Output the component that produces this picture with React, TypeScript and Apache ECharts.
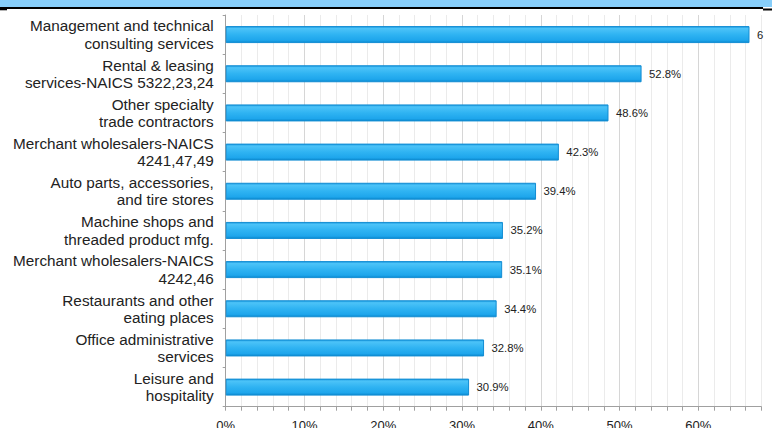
import React, { useEffect, useRef } from 'react';
import * as echarts from 'echarts';

const categories: string[] = [
  'Management and technical\nconsulting services',
  'Rental & leasing\nservices-NAICS 5322,23,24',
  'Other specialty\ntrade contractors',
  'Merchant wholesalers-NAICS\n4241,47,49',
  'Auto parts, accessories,\nand tire stores',
  'Machine shops and\nthreaded product mfg.',
  'Merchant wholesalers-NAICS\n4242,46',
  'Restaurants and other\neating places',
  'Office administrative\nservices',
  'Leisure and\nhospitality',
];
const values: number[] = [66.5, 52.8, 48.6, 42.3, 39.4, 35.2, 35.1, 34.4, 32.8, 30.9];
const xMin = 0;
const xMax = 68;
const xInterval = 2;

const W = 772;
const H = 428;
const FONT = "'Liberation Sans', Arial, sans-serif";

export default function App() {
  const ref = useRef<HTMLDivElement>(null);
  useEffect(() => {
    if (!ref.current) return;
    const chart = echarts.init(ref.current, undefined, { renderer: 'svg' });
    const gridLeft = 225.7;
    const gridRight = 10.7;
    const gridTop = 15;
    const gridBottom = 21.3;
    const plotW = W - gridLeft - gridRight;
    const pxPer = plotW / (xMax - xMin);
    const labelDist = 7.5;
    const data = values.map((v) => {
      const room = plotW - (v - xMin) * pxPer - labelDist + 4;
      return {
        value: v,
        label: { width: Math.max(1, room), overflow: 'truncate', ellipsis: '' },
      };
    });
    chart.setOption({
      animation: false,
      textStyle: { fontFamily: FONT },
      grid: {
        left: gridLeft,
        right: gridRight,
        top: gridTop,
        bottom: gridBottom,
        containLabel: false,
        outerBoundsMode: 'none',
      },
      xAxis: {
        type: 'value',
        min: xMin,
        max: xMax,
        interval: xInterval,
        axisLine: { show: true, lineStyle: { color: '#a0a0a0', width: 1 } },
        axisTick: { show: true, interval: 4, length: 4, lineStyle: { color: '#a0a0a0' } },
        axisLabel: {
          interval: 4,
          formatter: (v: number) => (Math.round(v) % 10 === 0 ? `${v}%` : ''),
          fontSize: 13,
          color: '#222',
          margin: 12,
          fontFamily: FONT,
        },
        splitLine: {
          show: true,
          lineStyle: { color: ['#d6d6d6', '#ebebeb', '#ebebeb', '#ebebeb', '#ebebeb'], width: 1 },
        },
      },
      yAxis: {
        type: 'category',
        data: categories,
        inverse: true,
        axisLine: { show: true, lineStyle: { color: '#a0a0a0', width: 1 } },
        axisTick: { show: true, length: 3, lineStyle: { color: '#a0a0a0' } },
        axisLabel: {
          interval: 0,
          showMinLabel: true,
          showMaxLabel: true,
          hideOverlap: false,
          fontSize: 15.3,
          lineHeight: 17.3,
          color: '#222',
          margin: 12,
          align: 'right',
          padding: [0, 0, 4, 0],
          fontFamily: FONT,
        },
        splitLine: { show: false },
      },
      series: [
        {
          type: 'bar',
          data,
          barWidth: 17,
          itemStyle: {
            color: new echarts.graphic.LinearGradient(0, 0, 0, 1, [
              { offset: 0, color: '#1b9ae0' },
              { offset: 0.12, color: '#4cc3f8' },
              { offset: 0.5, color: '#2fb3f2' },
              { offset: 0.85, color: '#1ea6ec' },
              { offset: 1, color: '#0b8ad0' },
            ]),
            borderColor: '#128dd3',
            borderWidth: 1,
          },
          label: {
            show: true,
            position: 'right',
            distance: labelDist,
            formatter: (p: any) => `${p.value}%`,
            fontSize: 11.3,
            color: '#222',
            fontFamily: FONT,
          },
        },
      ],
      graphic: [
        { type: 'rect', shape: { x: 0, y: 0, width: W, height: 7 }, style: { fill: '#87cefa' }, z: 100 },
        { type: 'rect', shape: { x: 0, y: 7, width: 763, height: 2 }, style: { fill: '#000' }, z: 100 },
        { type: 'rect', shape: { x: 0, y: 9, width: 7, height: 1.3 }, style: { fill: '#000' }, z: 100 },
        { type: 'rect', shape: { x: 763, y: 8.5, width: 9, height: 2 }, style: { fill: '#000' }, z: 100 },
      ],
    });
    return () => chart.dispose();
  }, []);
  return (
    <div
      ref={ref}
      style={{ position: 'absolute', left: 0, top: 0, width: W, height: H, background: '#fff' }}
    />
  );
}
